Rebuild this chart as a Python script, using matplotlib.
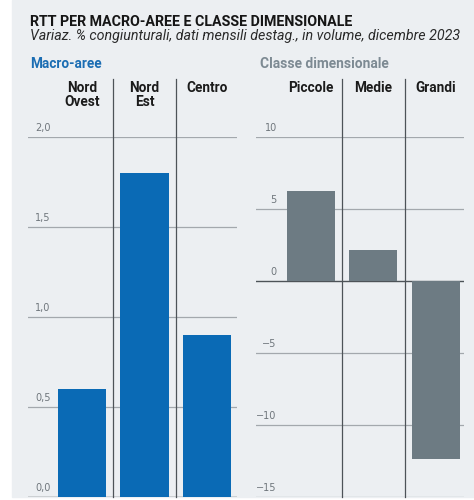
import matplotlib
matplotlib.use("Agg")
from matplotlib import pyplot as plt
from matplotlib.patches import Rectangle
import matplotlib.transforms as mtransforms

plt.rcParams['font.family'] = ['Roboto', 'DejaVu Sans']

# dati
aree = ['Nord\nOvest', 'Nord\nEst', 'Centro']
aree_val = [0.6, 1.8, 0.9]
aree_ticks = [0.0, 0.5, 1.0, 1.5, 2.0]
aree_ticklab = ['0,0', '0,5', '1,0', '1,5', '2,0']

classi = ['Piccole', 'Medie', 'Grandi']
classi_val = [6.2, 2.1, -12.4]
classi_ticks = [-15, -10, -5, 0, 5, 10]
classi_ticklab = ['\u221215', '\u221210', '\u22125', '0', '5', '10']

W, H = 474, 500
bg = '#eceff2'
blu = '#0a6ab5'
grigio = '#6d7b83'
grid_col = '#a3a8ad'
sep_col = '#4d5358'
lab_col = '#6f767c'

fig = plt.figure(figsize=(W / 100, H / 100), dpi=100, facecolor='white')
fig.patches.append(Rectangle((12 / W, 3 / H), 1 - 12 / W, 1 - 3 / H,
                             transform=fig.transFigure, color=bg, zorder=-10))

# titoli
fig.text(30 / W, 1 - 15.5 / H, 'RTT PER MACRO-AREE E CLASSE DIMENSIONALE',
         fontsize=10.3, fontweight='bold', color='#161616', va='top')
fig.text(30 / W, 1 - 29.5 / H, 'Variaz. % congiunturali, dati mensili destag., in volume, dicembre 2023',
         fontsize=10.3, style='italic', color='#2a2a2a', va='top')
fig.text(30 / W, 1 - 57 / H, 'Macro-aree', fontsize=9.8, fontweight='bold', color='#1b6db3', va='top')
fig.text(260 / W, 1 - 57 / H, 'Classe dimensionale', fontsize=9.9, fontweight='bold', color='#7d8a93', va='top')

bottom = 3.3 / H
height = 360 / H


def pannello(left, width, xlim, ylim, cats, vals, ticks, ticklab, color, tick_x, tick_ha):
    ax = fig.add_axes([left / W, bottom, width / W, height])
    ax.set_facecolor('none')
    ax.set_xlim(*xlim)
    ax.set_ylim(*ylim)
    for s in ax.spines.values():
        s.set_visible(False)
    ax.set_xticks([])
    ax.set_yticks([])
    x = list(range(len(cats)))
    for t, tl in zip(ticks, ticklab):
        c = sep_col if t == 0 else grid_col
        ax.axhline(t, color=c, lw=1.0 if t == 0 else 0.9, zorder=1)
        ax.text(tick_x, t + (ylim[1] - ylim[0]) * 0.011, tl, transform=ax.get_yaxis_transform(),
                ha=tick_ha, va='bottom', fontsize=7, color=lab_col, family='DejaVu Sans')
    ax.bar(x, vals, width=0.77, color=color, zorder=2)
    for xs in [0.5, 1.5]:
        ax.axvline(xs, ymin=0, ymax=(496.7 - 79) / 360, color=sep_col, lw=0.9, clip_on=False, zorder=3)
    tr = mtransforms.blended_transform_factory(ax.transData, ax.transAxes)
    for xi, c in zip(x, cats):
        ax.text(xi, (496.7 - 81) / 360, c, transform=tr, ha='center', va='top',
                fontsize=9.8, fontweight='bold', color='#1b1b1b', linespacing=1.0)
    return ax


pannello(28, 209, (-0.864, 2.48), (0, 2.0), aree, aree_val, aree_ticks, aree_ticklab,
         blu, 0.033, 'left')
pannello(256, 208, (-0.88, 2.45), (-15, 10), classi, classi_val, classi_ticks, classi_ticklab,
         grigio, 0.10, 'right')

fig.savefig('out.png', dpi=100, facecolor='white')
